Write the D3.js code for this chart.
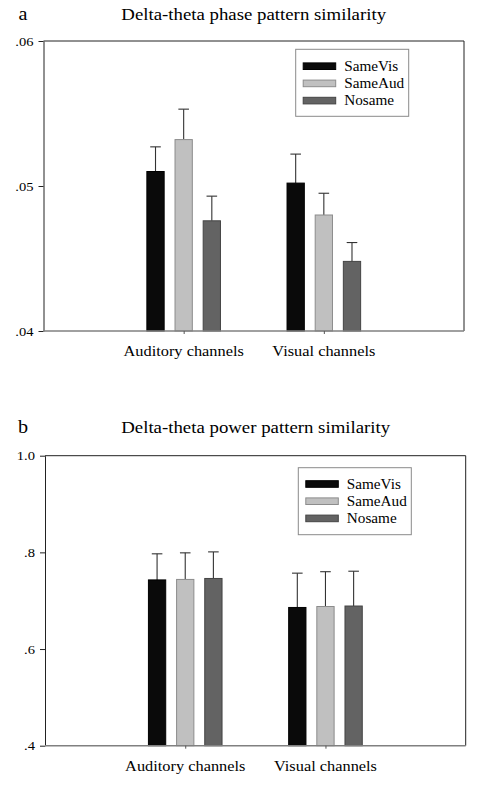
<!DOCTYPE html>
<html>
<head>
<meta charset="utf-8">
<script src="https://cdn.jsdelivr.net/npm/d3@7"></script>
<style>
  html, body { margin: 0; padding: 0; background: #fff; }
  svg text { font-family: "Liberation Serif", "Times New Roman", serif; fill: #000; }
</style>
</head>
<body>
<script>
// ---------- DATA ----------
const categories = ["Auditory channels", "Visual channels"];
const seriesNames = ["SameVis", "SameAud", "Nosame"];

// Panel a: Delta-theta phase pattern similarity
const phaseTitle = "Delta-theta phase pattern similarity";
const phaseSameVis = [0.0510, 0.0502];
const phaseSameAud = [0.0532, 0.0480];
const phaseNosame  = [0.0476, 0.0448];
const phaseErrSameVis = [0.0017, 0.0020];
const phaseErrSameAud = [0.0021, 0.0015];
const phaseErrNosame  = [0.0017, 0.0013];
const phaseTicks = [0.04, 0.05, 0.06];
const phaseTickLabels = [".04", ".05", ".06"];

// Panel b: Delta-theta power pattern similarity
const powerTitle = "Delta-theta power pattern similarity";
const powerSameVis = [0.743, 0.686];
const powerSameAud = [0.744, 0.688];
const powerNosame  = [0.746, 0.689];
const powerErrSameVis = [0.054, 0.071];
const powerErrSameAud = [0.055, 0.072];
const powerErrNosame  = [0.055, 0.072];
const powerTicks = [0.4, 0.6, 0.8, 1.0];
const powerTickLabels = [".4", ".6", ".8", "1.0"];

// ---------- STYLE ----------
const W = 490, H = 787;
const SX = 1.12; // horizontal stretch of the original typesetting
const fills   = ["#0a0a0a", "#c0c0c0", "#636363"];
const strokes = ["#000000", "#8c8c8c", "#444444"];

const svg = d3.select("body").append("svg")
  .attr("width", W).attr("height", H);

function stretchedText(g, x, y, txt, size, anchor) {
  return g.append("text")
    .attr("transform", `translate(${x},${y}) scale(${SX},1)`)
    .attr("text-anchor", anchor || "start")
    .style("font-size", size + "px")
    .text(txt);
}

function drawPanel(cfg) {
  const { left, right, top, bottom } = cfg.box;
  const g = svg.append("g");

  const y = d3.scaleLinear().domain(cfg.domain).range([bottom, top]);
  const x = d3.scalePoint().domain(categories).range([left, right]).padding(1);
  const xs = d3.scaleBand().domain(seriesNames).range([-36.8, 36.8]).paddingInner(0.386);

  // frame (top & right)
  g.append("path")
    .attr("d", `M${left},${top}H${right}V${bottom}`)
    .attr("fill", "none").attr("stroke", "#222").attr("stroke-width", 1);

  const rows = [];
  seriesNames.forEach((s, si) => {
    categories.forEach((c, ci) => {
      rows.push({ s, si, c, v: cfg.values[si][ci], e: cfg.errors[si][ci] });
    });
  });

  // error bars
  const eg = g.append("g");
  rows.forEach(d => {
    const cx = x(d.c) + xs(d.s) + xs.bandwidth() / 2;
    eg.append("line")
      .attr("x1", cx).attr("x2", cx)
      .attr("y1", y(d.v)).attr("y2", y(d.v + d.e))
      .attr("stroke", "#333").attr("stroke-width", 1.1);
    eg.append("line")
      .attr("x1", cx - 5.3).attr("x2", cx + 5.3)
      .attr("y1", y(d.v + d.e)).attr("y2", y(d.v + d.e))
      .attr("stroke", "#333").attr("stroke-width", 1.1);
  });

  // bars
  g.append("g").selectAll("rect").data(rows).join("rect")
    .attr("x", d => x(d.c) + xs(d.s))
    .attr("width", xs.bandwidth())
    .attr("y", d => y(d.v))
    .attr("height", d => y(cfg.domain[0]) - y(d.v))
    .attr("fill", d => fills[d.si])
    .attr("stroke", d => strokes[d.si])
    .attr("stroke-width", 1);

  // y axis
  const ya = g.append("g").attr("transform", `translate(${left},0)`)
    .call(d3.axisLeft(y).tickValues(cfg.ticks)
      .tickFormat((d, i) => cfg.tickLabels[i])
      .tickSizeInner(5).tickSizeOuter(0).tickPadding(5));
  ya.select(".domain").attr("stroke", "#222");
  ya.selectAll(".tick line").attr("stroke", "#222");
  ya.selectAll(".tick text").remove();
  cfg.ticks.forEach((t, i) => {
    stretchedText(g, left - 10, y(t) + 4.5, cfg.tickLabels[i], 13, "end");
  });

  // x axis
  const xa = g.append("g").attr("transform", `translate(0,${bottom})`)
    .call(d3.axisBottom(x).tickSizeInner(3).tickSizeOuter(0).tickFormat(""));
  xa.select(".domain").attr("stroke", "#808080").attr("stroke-width", 1.6)
    .attr("d", `M${left},0H${right}`);
  xa.selectAll(".tick line").attr("stroke", "#555");
  categories.forEach(c => {
    stretchedText(g, x(c), bottom + 25, c, 14.6, "middle");
  });

  // title and panel letter
  stretchedText(g, cfg.titleX, cfg.titleY, cfg.title, 16.8, "middle");
  stretchedText(g, cfg.letterX, cfg.titleY, cfg.letter, 18, "start");

  // legend
  const L = cfg.legend;
  const lg = g.append("g").attr("transform", `translate(${L.x},${L.y})`);
  lg.append("rect").attr("x", 0).attr("y", 0).attr("width", 113).attr("height", 67)
    .attr("fill", "#fff").attr("stroke", "#8a8a8a").attr("stroke-width", 1);
  seriesNames.forEach((s, i) => {
    lg.append("rect")
      .attr("x", 7.5).attr("y", L.row0 + i * 17.2 - 3.3)
      .attr("width", 32.5).attr("height", 6.6)
      .attr("fill", fills[i]).attr("stroke", strokes[i]).attr("stroke-width", 1);
    stretchedText(lg, 48.5, L.row0 + i * 17.2 + 4.8, s, 13.6, "start");
  });
}

drawPanel({
  box: { left: 43.5, right: 464, top: 41, bottom: 331 },
  domain: [0.04, 0.06],
  values: [phaseSameVis, phaseSameAud, phaseNosame],
  errors: [phaseErrSameVis, phaseErrSameAud, phaseErrNosame],
  ticks: phaseTicks, tickLabels: phaseTickLabels,
  title: phaseTitle, titleX: 253.7, titleY: 19.5, letter: "a", letterX: 18.5,
  legend: { x: 295.7, y: 49.3, row0: 16.9 }
});

drawPanel({
  box: { left: 45, right: 465.7, top: 455.7, bottom: 745.7 },
  domain: [0.4, 1.0],
  values: [powerSameVis, powerSameAud, powerNosame],
  errors: [powerErrSameVis, powerErrSameAud, powerErrNosame],
  ticks: powerTicks, tickLabels: powerTickLabels,
  title: powerTitle, titleX: 255.7, titleY: 433, letter: "b", letterX: 18,
  legend: { x: 298.3, y: 467.7, row0: 16.3 }
});
</script>
</body>
</html>
